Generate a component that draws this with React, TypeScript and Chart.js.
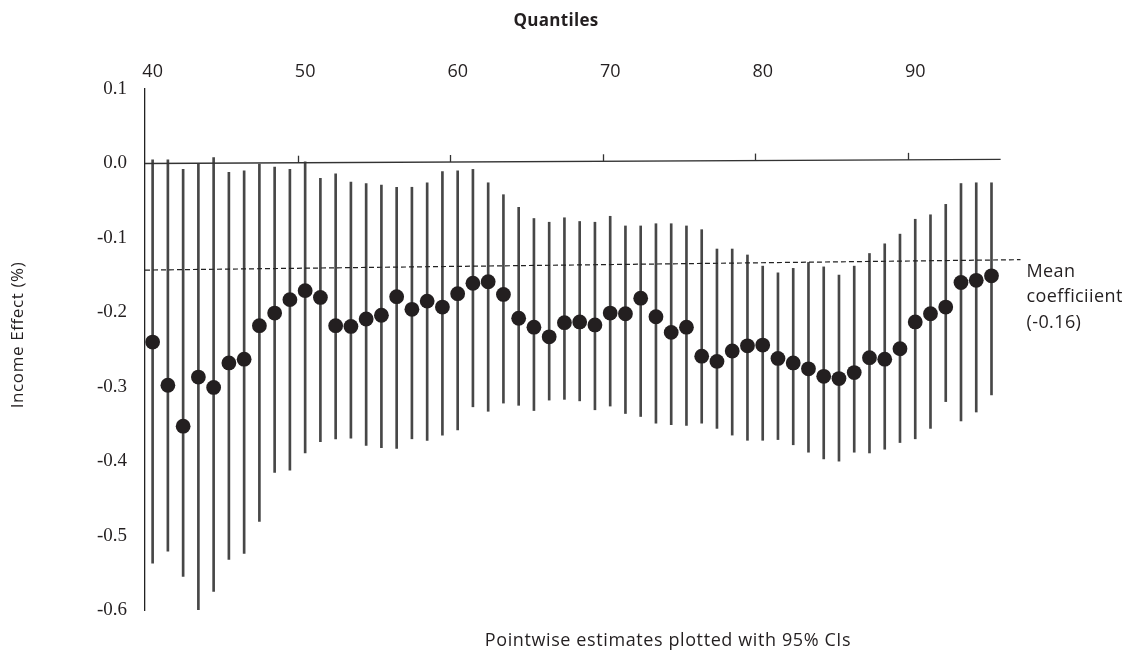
import React, { useEffect, useRef } from "react";
import { Chart, registerables } from "chart.js";

Chart.register(...registerables);

// ---- data ----
const quantiles = [
  40, 41, 42, 43, 44, 45, 46, 47, 48, 49,
  50, 51, 52, 53, 54, 55, 56, 57, 58, 59,
  60, 61, 62, 63, 64, 65, 66, 67, 68, 69,
  70, 71, 72, 73, 74, 75, 76, 77, 78, 79,
  80, 81, 82, 83, 84, 85, 86, 87, 88, 89,
  90, 91, 92, 93, 94, 95,
];

const estimates = [
  -0.240, -0.298, -0.353, -0.287, -0.301, -0.268, -0.263, -0.218, -0.201, -0.183,
  -0.171, -0.180, -0.218, -0.219, -0.209, -0.204, -0.179, -0.196, -0.185, -0.193,
  -0.175, -0.161, -0.159, -0.176, -0.208, -0.220, -0.233, -0.214, -0.213, -0.217,
  -0.201, -0.202, -0.181, -0.206, -0.227, -0.220, -0.259, -0.266, -0.252, -0.245,
  -0.244, -0.262, -0.268, -0.276, -0.286, -0.289, -0.281, -0.261, -0.263, -0.249,
  -0.213, -0.202, -0.193, -0.160, -0.157, -0.151,
];

const ciUpper = [
  0.005, 0.005, -0.008, -0.001, 0.008, -0.012, -0.010, -0.001, -0.005, -0.008,
  0.002, -0.020, -0.014, -0.025, -0.027, -0.029, -0.032, -0.032, -0.026, -0.011,
  -0.010, -0.008, -0.026, -0.042, -0.059, -0.074, -0.079, -0.073, -0.078, -0.079,
  -0.071, -0.084, -0.084, -0.081, -0.081, -0.084, -0.089, -0.115, -0.115, -0.123,
  -0.138, -0.147, -0.141, -0.133, -0.139, -0.150, -0.138, -0.121, -0.108, -0.095,
  -0.075, -0.069, -0.055, -0.027, -0.026, -0.026,
];

const ciLower = [
  -0.537, -0.521, -0.555, -0.600, -0.575, -0.532, -0.524, -0.481, -0.415, -0.412,
  -0.389, -0.374, -0.370, -0.369, -0.379, -0.382, -0.383, -0.370, -0.372, -0.365,
  -0.358, -0.327, -0.333, -0.322, -0.325, -0.332, -0.318, -0.317, -0.319, -0.331,
  -0.326, -0.336, -0.340, -0.349, -0.351, -0.352, -0.349, -0.356, -0.365, -0.372,
  -0.372, -0.371, -0.378, -0.388, -0.397, -0.400, -0.388, -0.389, -0.384, -0.375,
  -0.370, -0.356, -0.320, -0.346, -0.334, -0.311,
];

const xTickValues = [40, 50, 60, 70, 80, 90];
const yTickValues = [-0.6, -0.5, -0.4, -0.3, -0.2, -0.1, 0.0, 0.1];
const zeroAxisTickValues = [49.5, 59.5, 69.5, 79.5, 89.5];

const zeroLineX = [39.5, 95.6];
const zeroLineY = [0.0, 0.0054];
const meanLineX = [39.5, 96.9];
const meanLineY = [-0.1433, -0.1293];

const meanLabelLines = ["Mean", "coefficiient", "(-0.16)"];
const xTitle = "Quantiles";
const yTitle = "Income Effect (%)";
const bottomNote = "Pointwise estimates plotted with 95% CIs";

const INK = "#231f20";
const SANS = "'Open Sans', 'Noto Sans', sans-serif";
const SERIF = "'Liberation Serif', 'DejaVu Serif', serif";

const textPlugin = {
  id: "textPlugin",
  afterDatasetsDraw(chart: any) {
    const { ctx, scales } = chart;
    const xs = scales.x;
    const ys = scales.y;
    ctx.save();
    // small upward tick marks on the zero axis line
    ctx.strokeStyle = "#333";
    ctx.lineWidth = 1.3;
    const slope = (zeroLineY[1] - zeroLineY[0]) / (zeroLineX[1] - zeroLineX[0]);
    zeroAxisTickValues.forEach((v) => {
      const px = Math.round(xs.getPixelForValue(v)) + 0.5;
      const py = ys.getPixelForValue(zeroLineY[0] + slope * (v - zeroLineX[0]));
      ctx.beginPath();
      ctx.moveTo(px, py);
      ctx.lineTo(px, py - 7);
      ctx.stroke();
    });
    ctx.restore();
  },
  afterDraw(chart: any) {
    const { ctx, scales } = chart;
    const ys = scales.y;
    const xs = scales.x;
    ctx.save();
    ctx.fillStyle = INK;

    // top axis title
    ctx.font = `bold 17px ${SANS}`;
    ctx.letterSpacing = "0.3px";
    ctx.textAlign = "center";
    ctx.textBaseline = "middle";
    ctx.fillText(xTitle, 556, 21);

    // bottom note
    ctx.font = `18px ${SANS}`;
    ctx.letterSpacing = "0.6px";
    ctx.fillText(bottomNote, 668, 641);

    // y-axis title (rotated)
    ctx.save();
    ctx.translate(18, 335);
    ctx.rotate(-Math.PI / 2);
    ctx.font = `17px ${SANS}`;
    ctx.letterSpacing = "0.6px";
    ctx.textAlign = "center";
    ctx.textBaseline = "middle";
    ctx.fillText(yTitle, 0, 0);
    ctx.restore();

    // mean coefficient annotation
    ctx.font = `18px ${SANS}`;
    ctx.letterSpacing = "0.4px";
    ctx.textAlign = "left";
    ctx.textBaseline = "alphabetic";
    const ax = xs.getPixelForValue(meanLineX[1]) + 6;
    const ay = ys.getPixelForValue(meanLineY[1]) + 17;
    meanLabelLines.forEach((t, i) => {
      ctx.fillText(t, ax, ay + i * 25.5);
    });
    ctx.restore();
  },
};

export default function App() {
  const ref = useRef<HTMLCanvasElement | null>(null);

  useEffect(() => {
    document.body.style.margin = "0";
    const canvas = ref.current;
    if (!canvas) return;

    const ciData = quantiles.map((q, i) => ({ x: q, y: [ciLower[i], ciUpper[i]] }));
    const pointData = quantiles.map((q, i) => ({ x: q, y: estimates[i] }));
    const zeroData = zeroLineX.map((x, i) => ({ x, y: zeroLineY[i] }));
    const meanData = meanLineX.map((x, i) => ({ x, y: meanLineY[i] }));

    const chart = new Chart(canvas, {
      type: "scatter",
      data: {
        datasets: [
          {
            type: "bar",
            label: "95% CI",
            data: ciData as any,
            backgroundColor: "#474747",
            borderWidth: 0,
            barThickness: 2,
            order: 3,
          } as any,
          {
            type: "line",
            label: "zero",
            data: zeroData,
            borderColor: "#333",
            borderWidth: 1.4,
            pointRadius: 0,
            fill: false,
            order: 2,
          } as any,
          {
            type: "line",
            label: "mean",
            data: meanData,
            borderColor: "#222",
            borderWidth: 1.2,
            borderDash: [5, 3],
            pointRadius: 0,
            fill: false,
            order: 1,
          } as any,
          {
            type: "scatter",
            label: "estimate",
            data: pointData,
            backgroundColor: INK,
            borderWidth: 0,
            pointRadius: 7.4,
            pointHoverRadius: 7.4,
            order: 0,
          } as any,
        ],
      },
      options: {
        responsive: false,
        animation: false,
        events: [],
        layout: { padding: { left: 0, top: 0, right: 103, bottom: 41 } },
        plugins: {
          legend: { display: false },
          tooltip: { enabled: false },
          title: { display: false },
        },
        scales: {
          x: {
            type: "linear",
            position: "top",
            offset: false,
            min: 39.5,
            max: 97,
            grid: { display: false, drawTicks: false, offset: false },
            border: { display: false },
            afterFit: (scale: any) => {
              scale.height = 89;
            },
            afterBuildTicks: (scale: any) => {
              scale.ticks = xTickValues.map((v) => ({ value: v }));
            },
            ticks: {
              padding: 6,
              maxRotation: 0,
              autoSkip: false,
              color: INK,
              font: { family: SANS, size: 18 },
              callback: (v: any) => String(v),
            },
          },
          y: {
            type: "linear",
            min: -0.6,
            max: 0.1,
            grid: { display: false, drawTicks: false },
            border: { display: true, color: "#222", width: 1.3 },
            afterFit: (scale: any) => {
              scale.width = 145;
            },
            afterBuildTicks: (scale: any) => {
              scale.ticks = yTickValues.map((v) => ({ value: v }));
            },
            ticks: {
              padding: 18,
              autoSkip: false,
              color: INK,
              font: { family: SERIF, size: 19 },
              callback: (v: any) => Number(v).toFixed(1),
            },
          },
        },
      } as any,
      plugins: [textPlugin],
    });

    return () => chart.destroy();
  }, []);

  return (
    <div style={{ width: 1125, height: 651 }}>
      <canvas ref={ref} width={1125} height={651} style={{ display: "block" }} />
    </div>
  );
}
